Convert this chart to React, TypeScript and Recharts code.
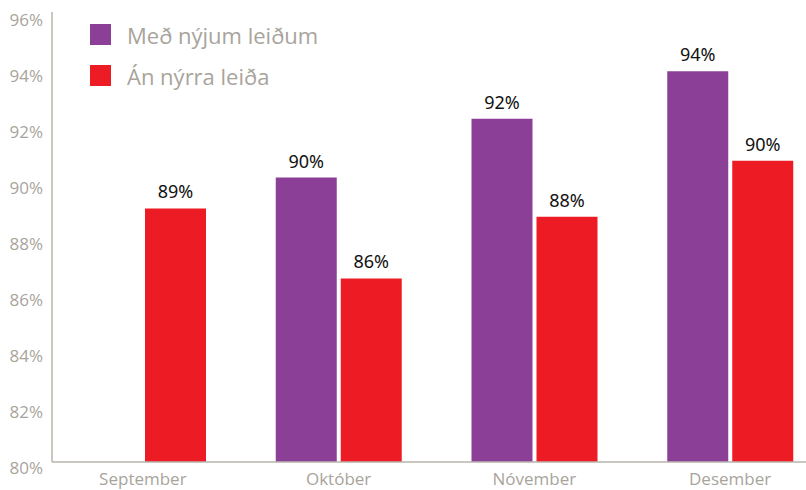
import React from "react";
import { BarChart, Bar, XAxis, YAxis, LabelList } from "recharts";

const months = ["September", "Október", "Nóvember", "Desember"];
const withNewPlans: (number | null)[] = [null, 89.8, 91.9, 93.6];
const withoutNewPlans = [88.7, 86.2, 88.4, 90.4];
const yTicks = [80, 82, 84, 86, 88, 90, 92, 94, 96];

const seriesNames = { withNew: "Með nýjum leiðum", without: "Án nýrra leiða" };
const PURPLE = "#8C3F97";
const RED = "#ED1C24";
const GREY = "#a8a49c";

const data = months.map((m, i) => ({
  month: m,
  withNew: withNewPlans[i],
  without: withoutNewPlans[i],
}));

function YTick(props: any) {
  const { x, y, payload } = props;
  return (
    <text
      x={x}
      y={y + 16}
      dy="0.35em"
      textAnchor="end"
      fill={GREY}
      fontSize={17}
      fontFamily="Open Sans"
    >
      {payload.value}%
    </text>
  );
}

// legend drawn over the chart so it doesn't shrink the plot area
function LegendBox() {
  const items = [
    { label: seriesNames.withNew, color: PURPLE },
    { label: seriesNames.without, color: RED },
  ];
  return (
    <div style={{ position: "absolute", left: 90, top: 14 }}>
      {items.map((it) => (
        <div
          key={it.label}
          style={{ display: "flex", alignItems: "center", height: 41 }}
        >
          <span
            style={{
              width: 21,
              height: 21,
              background: it.color,
              display: "inline-block",
              marginRight: 16,
            }}
          />
          <span style={{ color: GREY, fontSize: 22, fontFamily: "Open Sans" }}>
            {it.label}
          </span>
        </div>
      ))}
    </div>
  );
}

const pct = (v: any) => (v == null ? "" : `${Math.round(v)}%`);

export default function App() {
  return (
    <div
      style={{
        position: "absolute",
        left: 0,
        top: 0,
        width: 806,
        height: 490,
        overflow: "hidden",
        background: "#fff",
      }}
    >
      <BarChart
        width={830}
        height={490}
        data={data}
        margin={{ top: 12, right: 2, left: 0, bottom: 0 }}
        barSize={61}
        barGap={4}
        baseValue={80}
      >
        <XAxis
          dataKey="month"
          axisLine={{ stroke: "#b8b4ac", strokeWidth: 1.5 }}
          tickLine={false}
          tick={{ fill: GREY, fontSize: 17, fontFamily: "Open Sans" }}
          tickMargin={5}
          height={28}
          padding={{ left: -7, right: 0 }}
        />
        <YAxis
          type="number"
          domain={[79.643, 95.714]}
          allowDataOverflow
          ticks={yTicks}
          interval={0}
          width={52}
          axisLine={{ stroke: "#b8b4ac", strokeWidth: 1.5 }}
          tickLine={false}
          tick={<YTick />}
          tickMargin={3}
        />
        <Bar
          dataKey="withNew"
          name={seriesNames.withNew}
          fill={PURPLE}
          isAnimationActive={false}
        >
          <LabelList
            dataKey="withNew"
            position="top"
            offset={10}
            formatter={pct}
            fill="#111"
            fontSize={18}
            fontFamily="Noto Sans"
          />
        </Bar>
        <Bar
          dataKey="without"
          name={seriesNames.without}
          fill={RED}
          isAnimationActive={false}
        >
          <LabelList
            dataKey="without"
            position="top"
            offset={10}
            formatter={pct}
            fill="#111"
            fontSize={18}
            fontFamily="Noto Sans"
          />
        </Bar>
      </BarChart>
      <LegendBox />
    </div>
  );
}
